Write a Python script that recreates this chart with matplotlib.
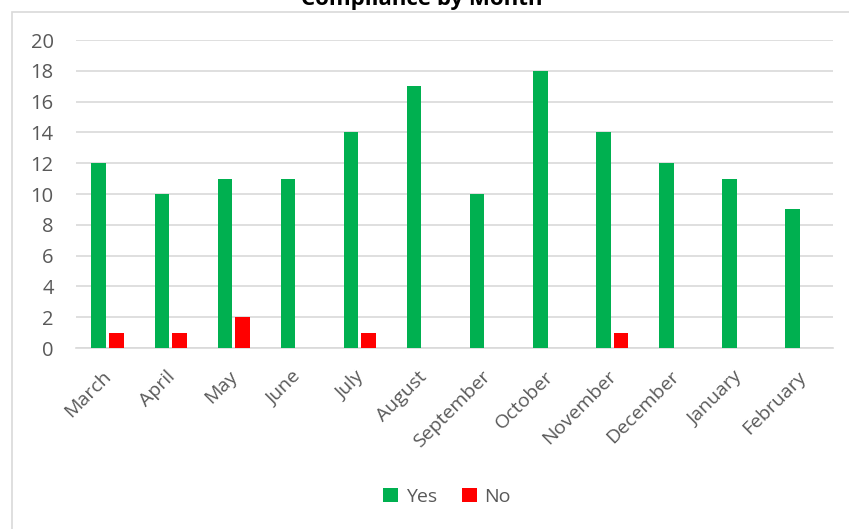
import matplotlib
matplotlib.use("Agg")
import matplotlib.pyplot as plt
import matplotlib.transforms as mtransforms
import numpy as np
from matplotlib.patches import Rectangle

months = ["March", "April", "May", "June", "July", "August", "September",
          "October", "November", "December", "January", "February"]
yes = [12, 10, 11, 11, 14, 17, 10, 18, 14, 12, 11, 9]
no = [1, 1, 2, 0, 1, 0, 0, 0, 1, 0, 0, 0]

GREEN = "#00B050"
RED = "#FF0000"
GRID = "#D9D9D9"
TXT = "#595959"
FONT = ["Open Sans", "DejaVu Sans"]

plt.rcParams["font.family"] = FONT

W, H = 849, 529
fig = plt.figure(figsize=(W / 100, H / 100), dpi=100)
fig.patch.set_facecolor("white")

# chart frame, runs off the right and bottom edges
fig.patches.append(Rectangle((12 / W, -0.1), 1.2, (H - 12) / H + 0.1,
                             transform=fig.transFigure, fill=False,
                             edgecolor=GRID, lw=1.2))

ax = fig.add_axes([76 / W, (H - 348) / H, (833 - 76) / W, (348 - 40) / H])
x = np.arange(len(months))
bw = 0.23
ax.bar(x - 0.14, yes, bw, color=GREEN, label="Yes", zorder=3)
ax.bar(x + 0.14, no, bw, color=RED, label="No", zorder=3)

ax.set_xlim(-0.5, len(months) - 0.5)
ax.set_ylim(0, 20)
ax.set_yticks(range(0, 21, 2))
ax.yaxis.grid(True, color=GRID, lw=1.2, zorder=0)
for s in ["top", "right", "left"]:
    ax.spines[s].set_visible(False)
ax.spines["bottom"].set_color(GRID)
ax.spines["bottom"].set_linewidth(1.2)
ax.tick_params(axis="both", length=0, colors=TXT, labelsize=14)
ax.tick_params(axis="y", pad=16, labelsize=14.5)
ax.set_xticks(x)
ax.set_xticklabels(months, rotation=45, ha="right", rotation_mode="anchor")
ax.tick_params(axis="x", pad=14)
shift = mtransforms.ScaledTranslation(-5 / 100, 0, fig.dpi_scale_trans)
for lbl in ax.get_xticklabels():
    lbl.set_transform(lbl.get_transform() + shift)

fig.text(0.497, (H - 5) / H, "Compliance by Month", ha="center",
         va="baseline", fontsize=16, fontweight="bold", color="black")

fig.legend(loc="center", bbox_to_anchor=(447 / W, (H - 497) / H), ncol=2,
           frameon=False, fontsize=14, labelcolor=TXT, handlelength=0.75,
           handleheight=0.75, handletextpad=0.4, columnspacing=1.3)

fig.savefig("out.png", dpi=100, facecolor=fig.get_facecolor())
